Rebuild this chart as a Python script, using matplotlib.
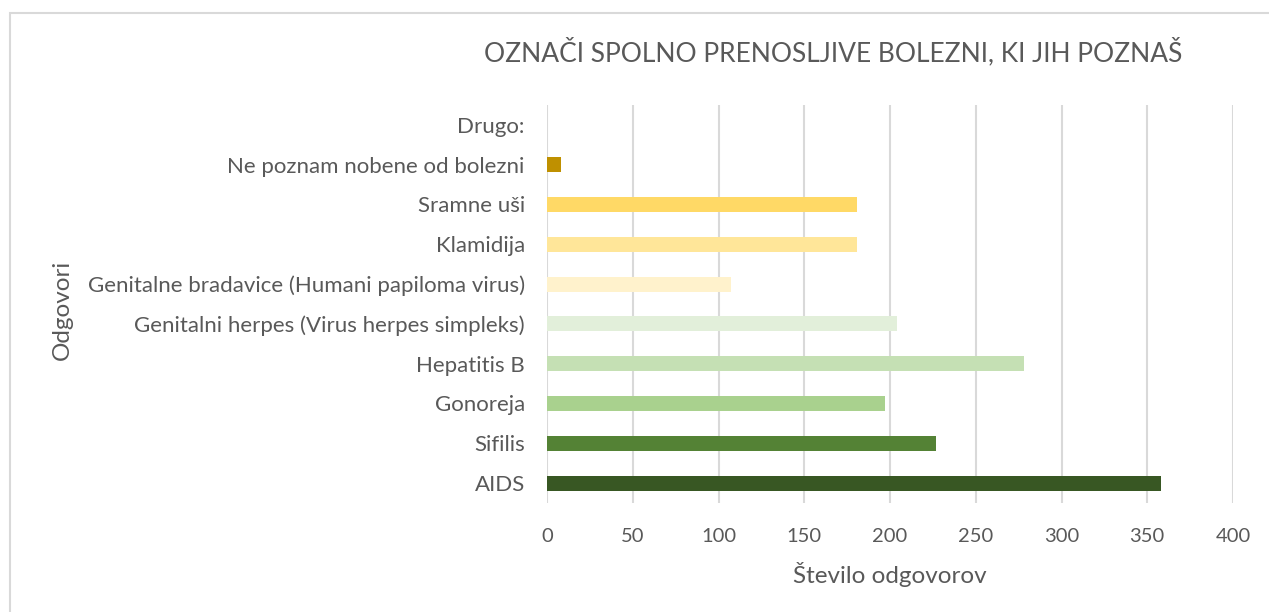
import matplotlib
matplotlib.use('Agg')
import matplotlib.pyplot as plt
from matplotlib.patches import Rectangle

# data (bottom to top)
categories = ['AIDS', 'Sifilis', 'Gonoreja', 'Hepatitis B',
              'Genitalni herpes (Virus herpes simpleks)',
              'Genitalne bradavice (Humani papiloma virus)',
              'Klamidija', 'Sramne uši', 'Ne poznam nobene od bolezni', 'Drugo:']
values = [358, 227, 197, 278, 204, 107, 181, 181, 8, 0]
colors = ['#385723', '#548235', '#A9D18E', '#C5E0B4', '#E2EFDA',
          '#FFF2CC', '#FFE699', '#FFD966', '#BF9000', '#7F6000']

plt.rcParams['font.family'] = ['Lato', 'DejaVu Sans']
txt = '#595959'

W, H = 1269, 612
fig = plt.figure(figsize=(W / 100, H / 100), dpi=100)
fig.patches.append(Rectangle((10 / W, -0.1), 1.2, 1 - 13 / H + 0.1, transform=fig.transFigure,
                             fill=False, edgecolor='#D9D9D9', linewidth=1.5))

ax = fig.add_axes([547 / W, 1 - 503 / H, (1233 - 547) / W, (503 - 105) / H])
ax.barh(range(len(categories)), values, height=0.38, color=colors, zorder=3)
ax.set_xlim(0, 400)
ax.set_ylim(-0.5, len(categories) - 0.5)
ax.set_xticks(range(0, 401, 50))
ax.set_yticks(range(len(categories)))
ax.set_yticklabels(categories)
ax.tick_params(axis='both', length=0, colors=txt)
ax.tick_params(axis='y', pad=16, labelsize=16)
ax.tick_params(axis='x', pad=18, labelsize=14.5)
ax.grid(axis='x', color='#D9D9D9', linewidth=1.5, zorder=0)
for s in ax.spines.values():
    s.set_visible(False)

ax.set_xlabel('Število odgovorov', fontsize=17.5, color=txt, labelpad=12)
fig.text(62 / W, 1 - 310 / H, 'Odgovori', rotation=90, fontsize=17.5, color=txt,
         ha='center', va='center')
fig.text(833 / W, 1 - 52 / H, 'OZNAČI SPOLNO PRENOSLJIVE BOLEZNI, KI JIH POZNAŠ',
         fontsize=19, color=txt, ha='center', va='center')

fig.savefig('out.png', dpi=100)
